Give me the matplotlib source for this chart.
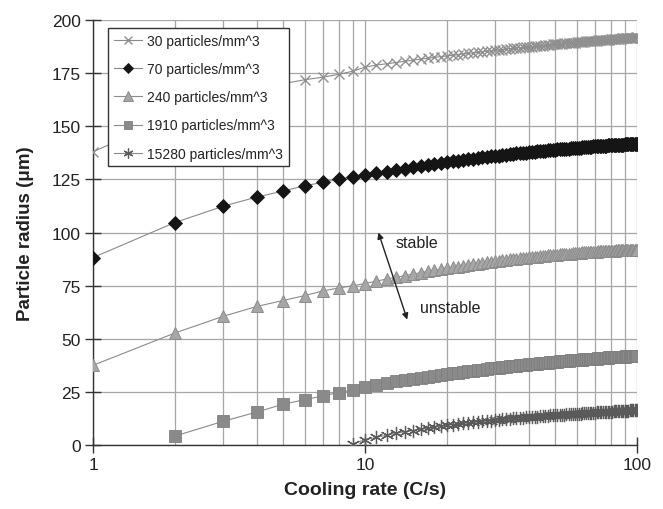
import matplotlib
matplotlib.use("Agg")
import matplotlib.pyplot as plt
from matplotlib.ticker import FixedLocator, NullFormatter, FixedFormatter

plt.rcParams['font.family'] = ['Liberation Sans', 'DejaVu Sans']

# ---------------- data ----------------
rate_all = list(range(1, 101))
rate_1910 = list(range(2, 101))
rate_15280 = list(range(9, 101))

r_30 = [138.0, 155.0, 162.7, 167.2, 170.0, 171.9, 173.1, 174.4, 175.9, 177.8,
        178.8, 179.4, 180.0, 180.6, 181.1, 181.6, 182.0, 182.4, 182.8, 183.1,
        183.4, 183.7, 184.0, 184.3, 184.6, 184.8, 185.1, 185.3, 185.5, 185.7,
        185.9, 186.1, 186.3, 186.5, 186.6, 186.8, 187.0, 187.1, 187.3, 187.4,
        187.5, 187.7, 187.8, 187.9, 188.0, 188.2, 188.3, 188.4, 188.5, 188.6,
        188.7, 188.8, 188.9, 189.0, 189.1, 189.2, 189.3, 189.4, 189.4, 189.5,
        189.6, 189.7, 189.8, 189.8, 189.9, 190.0, 190.1, 190.1, 190.2, 190.3,
        190.3, 190.4, 190.4, 190.5, 190.6, 190.6, 190.7, 190.7, 190.8, 190.9,
        190.9, 191.0, 191.0, 191.1, 191.1, 191.2, 191.2, 191.3, 191.3, 191.4,
        191.4, 191.5, 191.5, 191.5, 191.6, 191.6, 191.7, 191.7, 191.8, 191.8]

r_70 = [88.2, 104.7, 112.3, 116.7, 119.5, 122.0, 123.6, 125.1, 126.1, 127.0,
        127.9, 128.7, 129.5, 130.1, 130.7, 131.3, 131.8, 132.3, 132.7, 133.1,
        133.5, 133.8, 134.1, 134.5, 134.8, 135.0, 135.3, 135.5, 135.8, 136.0,
        136.2, 136.4, 136.6, 136.8, 137.0, 137.2, 137.3, 137.5, 137.6, 137.8,
        137.9, 138.1, 138.2, 138.3, 138.4, 138.5, 138.7, 138.8, 138.9, 139.0,
        139.1, 139.2, 139.3, 139.4, 139.5, 139.5, 139.6, 139.7, 139.8, 139.9,
        139.9, 140.0, 140.1, 140.1, 140.2, 140.3, 140.3, 140.4, 140.5, 140.5,
        140.6, 140.6, 140.7, 140.7, 140.8, 140.9, 140.9, 141.0, 141.0, 141.0,
        141.1, 141.1, 141.2, 141.2, 141.3, 141.3, 141.3, 141.4, 141.4, 141.5,
        141.5, 141.5, 141.6, 141.6, 141.6, 141.7, 141.7, 141.7, 141.8, 141.8]

r_240 = [37.5, 52.7, 60.5, 65.2, 68.0, 70.3, 72.5, 73.9, 74.9, 76.0,
         77.1, 78.1, 78.9, 79.7, 80.4, 81.1, 81.7, 82.2, 82.7, 83.2,
         83.6, 84.0, 84.4, 84.7, 85.0, 85.3, 85.6, 85.9, 86.2, 86.4,
         86.6, 86.9, 87.1, 87.3, 87.5, 87.6, 87.8, 88.0, 88.1, 88.3,
         88.4, 88.6, 88.7, 88.8, 89.0, 89.1, 89.2, 89.3, 89.4, 89.5,
         89.6, 89.7, 89.8, 89.9, 90.0, 90.1, 90.1, 90.2, 90.3, 90.4,
         90.4, 90.5, 90.6, 90.6, 90.7, 90.8, 90.8, 90.9, 90.9, 91.0,
         91.0, 91.1, 91.1, 91.2, 91.2, 91.3, 91.3, 91.3, 91.4, 91.4,
         91.5, 91.5, 91.5, 91.6, 91.6, 91.6, 91.7, 91.7, 91.7, 91.8,
         91.8, 91.8, 91.8, 91.9, 91.9, 91.9, 91.9, 92.0, 92.0, 92.0]

r_1910 = [4.2, 11.1, 15.5, 19.2, 21.3, 23.1, 24.7, 25.8, 27.5,
          28.4, 29.2, 29.9, 30.5, 31.1, 31.6, 32.1, 32.6, 33.0, 33.4,
          33.7, 34.1, 34.4, 34.7, 35.0, 35.3, 35.5, 35.8, 36.0, 36.2,
          36.4, 36.6, 36.8, 37.0, 37.2, 37.3, 37.5, 37.6, 37.8, 37.9,
          38.1, 38.2, 38.3, 38.5, 38.6, 38.7, 38.8, 38.9, 39.0, 39.1,
          39.2, 39.3, 39.4, 39.5, 39.6, 39.7, 39.8, 39.9, 39.9, 40.0,
          40.1, 40.2, 40.2, 40.3, 40.4, 40.4, 40.5, 40.6, 40.6, 40.7,
          40.7, 40.8, 40.9, 40.9, 41.0, 41.0, 41.1, 41.1, 41.2, 41.2,
          41.3, 41.3, 41.4, 41.4, 41.4, 41.5, 41.5, 41.6, 41.6, 41.6,
          41.7, 41.7, 41.8, 41.8, 41.8, 41.9, 41.9, 41.9, 42.0, 42.0]

r_15280 = [0.5, 2.5,
           3.6, 4.6, 5.5, 6.2, 6.8, 7.4, 7.9, 8.4, 8.8, 9.2,
           9.6, 9.9, 10.2, 10.4, 10.7, 10.9, 11.1, 11.4, 11.5, 11.7,
           11.9, 12.1, 12.2, 12.4, 12.5, 12.6, 12.8, 12.9, 13.0, 13.1,
           13.2, 13.3, 13.4, 13.5, 13.6, 13.7, 13.8, 13.9, 13.9, 14.0,
           14.1, 14.2, 14.2, 14.3, 14.4, 14.4, 14.5, 14.6, 14.6, 14.7,
           14.7, 14.8, 14.9, 14.9, 15.0, 15.0, 15.1, 15.1, 15.2, 15.2,
           15.3, 15.3, 15.4, 15.4, 15.5, 15.5, 15.6, 15.6, 15.7, 15.7,
           15.7, 15.8, 15.8, 15.9, 15.9, 16.0, 16.0, 16.0, 16.1, 16.1,
           16.2, 16.2, 16.2, 16.3, 16.3, 16.3, 16.4, 16.4, 16.5, 16.5]

labels = ["30 particles/mm^3", "70 particles/mm^3", "240 particles/mm^3",
          "1910 particles/mm^3", "15280 particles/mm^3"]

y_ticks = [0, 25, 50, 75, 100, 125, 150, 175, 200]
x_ticks = [1, 10, 100]
x_ticklabels = ["1", "10", "100"]

# ---------------- figure ----------------
fig = plt.figure(figsize=(6.63, 5.10), dpi=100)
ax = fig.add_axes([0.1403, 0.1255, 0.8205, 0.8333])

line_col = "#8a8a8a"
lw = 0.8

ax.plot(rate_all, r_30, color=line_col, lw=lw, marker='x', ms=7.5, mew=1.0,
        mec="#8f8f8f", label=labels[0], zorder=3)
ax.plot(rate_all, r_70, color=line_col, lw=lw, marker='D', ms=7.0, mew=0.6,
        mfc="#151515", mec="#151515", label=labels[1], zorder=3)
ax.plot(rate_all, r_240, color=line_col, lw=lw, marker='^', ms=9.0, mew=0.7,
        mfc="#a6a6a6", mec="#8c8c8c", label=labels[2], zorder=3)
ax.plot(rate_1910, r_1910, color=line_col, lw=lw, marker='s', ms=8.0, mew=0.6,
        mfc="#8a8a8a", mec="#7f7f7f", label=labels[3], zorder=3)
ax.plot(rate_15280, r_15280, color=line_col, lw=lw, marker=(6, 2, 0), ms=9.5, mew=0.9,
        mec="#5a5a5a", label=labels[4], zorder=3)

ax.set_xscale('log')
ax.set_xlim(1, 100)
ax.set_ylim(0, 200)

ax.xaxis.set_major_locator(FixedLocator(x_ticks))
ax.xaxis.set_major_formatter(FixedFormatter(x_ticklabels))
minor = [m * d for d in (1, 10) for m in range(2, 10)]
ax.xaxis.set_minor_locator(FixedLocator(minor))
ax.xaxis.set_minor_formatter(NullFormatter())
ax.yaxis.set_major_locator(FixedLocator(y_ticks))

ax.grid(True, which='major', axis='both', color="#a6a6a6", lw=0.9, zorder=0)
ax.grid(True, which='minor', axis='x', color="#a6a6a6", lw=0.9, zorder=0)
ax.set_axisbelow(True)

for s in ('top', 'right'):
    ax.spines[s].set_visible(False)
for s in ('left', 'bottom'):
    ax.spines[s].set_color("#333333")
    ax.spines[s].set_linewidth(1.0)

ax.tick_params(axis='both', which='major', direction='inout', length=12,
               width=1.0, color="#333333", labelsize=12.5, labelcolor="#222222", pad=3)
ax.tick_params(axis='x', which='minor', length=0)

ax.set_xlabel("Cooling rate (C/s)", fontsize=14, fontweight='bold',
              color="#222222", labelpad=6)
ax.set_ylabel("Particle radius (\u03bcm)", fontsize=13.5, fontweight='bold',
              color="#222222")
ax.yaxis.set_label_coords(-0.108, 0.5)

leg = ax.legend(loc='upper left', bbox_to_anchor=(0.0276, 0.981), borderaxespad=0,
                fancybox=False, framealpha=1, edgecolor="#333333", fontsize=10,
                handlelength=2.0, handletextpad=0.4, labelspacing=1.02,
                borderpad=0.42, markerscale=0.75)
leg.get_frame().set_linewidth(1.0)
for t in leg.get_texts():
    t.set_color("#222222")

# annotation: stable / unstable double arrow
ax.annotate("", xy=(11.2, 100.0), xytext=(14.3, 59.0),
            arrowprops=dict(arrowstyle='<|-|>', color="#222222", lw=1.0,
                            mutation_scale=9, shrinkA=0, shrinkB=0), zorder=4)
ax.text(12.9, 95.5, "stable", fontsize=11.5, color="#222222", va='center', ha='left')
ax.text(15.9, 64.5, "unstable", fontsize=11.5, color="#222222", va='center', ha='left')

fig.savefig("out.png", dpi=100)
